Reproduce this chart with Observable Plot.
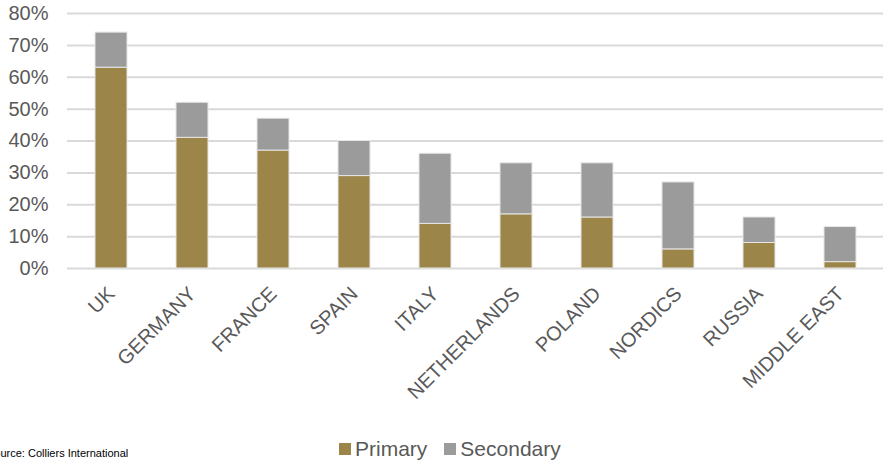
<!DOCTYPE html>
<html>
<head>
<meta charset="utf-8">
<script src="https://cdn.jsdelivr.net/npm/d3@7"></script>
<script src="https://cdn.jsdelivr.net/npm/@observablehq/plot@0.6"></script>
<style>
  html, body { margin: 0; padding: 0; background: #fff; overflow: hidden; }
  body { width: 883px; height: 463px; font-family: "Liberation Sans", Arial, sans-serif; }
  #chart svg { display: block; }
  #foot { position: relative; height: 33px; }
  #source { position: absolute; left: -13px; top: 17px; font-size: 11px; color: #000; white-space: nowrap; }
  #legend { position: absolute; left: 339px; top: 7px; display: flex; align-items: center; font-size: 21px; color: #595959; }
  .item { display: flex; align-items: center; margin-right: 17px; }
  .sw { width: 12px; height: 12px; margin-right: 4px; }
</style>
</head>
<body>
<div id="chart"></div>
<div id="foot">
  <div id="source">Source: Colliers International</div>
  <div id="legend"></div>
</div>
<script>
const countries = ["UK", "GERMANY", "FRANCE", "SPAIN", "ITALY", "NETHERLANDS", "POLAND", "NORDICS", "RUSSIA", "MIDDLE EAST"];
const primary   = [0.63, 0.41, 0.37, 0.29, 0.14, 0.17, 0.16, 0.06, 0.08, 0.02];
const secondary = [0.11, 0.11, 0.10, 0.11, 0.22, 0.16, 0.17, 0.21, 0.08, 0.11];
const seriesNames = ["Primary", "Secondary"];
const seriesColors = ["#9b8549", "#9b9b9b"];
const yTicks = [0, 0.1, 0.2, 0.3, 0.4, 0.5, 0.6, 0.7, 0.8];

const rows = [];
countries.forEach((c, i) => {
  rows.push({country: c, series: seriesNames[0], value: primary[i]});
  rows.push({country: c, series: seriesNames[1], value: secondary[i]});
});

const chart = Plot.plot({
  width: 883,
  height: 430,
  marginTop: 13,
  marginBottom: 162,
  marginLeft: 67,
  marginRight: 0,
  style: {fontFamily: "Liberation Sans, Arial, sans-serif", background: "#fff"},
  x: {domain: countries, paddingInner: 0.608, paddingOuter: 0.304, label: null},
  y: {domain: [0, 0.8], label: null},
  color: {domain: seriesNames, range: seriesColors},
  marks: [
    Plot.gridY(yTicks, {stroke: "#d9d9d9", strokeWidth: 2, strokeOpacity: 1}),
    Plot.barY(rows, {x: "country", y: "value", fill: "series", stroke: "#e6e6e6", strokeWidth: 1, order: seriesNames}),
    Plot.axisY(yTicks, {tickFormat: d3.format(".0%"), tickSize: 0, tickPadding: 19, fontSize: 20, fill: "#595959", label: null}),
    Plot.axisX({tickSize: 0, tickRotate: -45, tickPadding: 22, fontSize: 20, fill: "#595959", label: null})
  ]
});
document.getElementById("chart").append(chart);

const legend = document.getElementById("legend");
seriesNames.forEach((s, i) => {
  const item = document.createElement("div");
  item.className = "item";
  const sw = document.createElement("div");
  sw.className = "sw";
  sw.style.background = seriesColors[i];
  const t = document.createElement("span");
  t.textContent = s;
  item.append(sw, t);
  legend.append(item);
});
</script>
</body>
</html>
